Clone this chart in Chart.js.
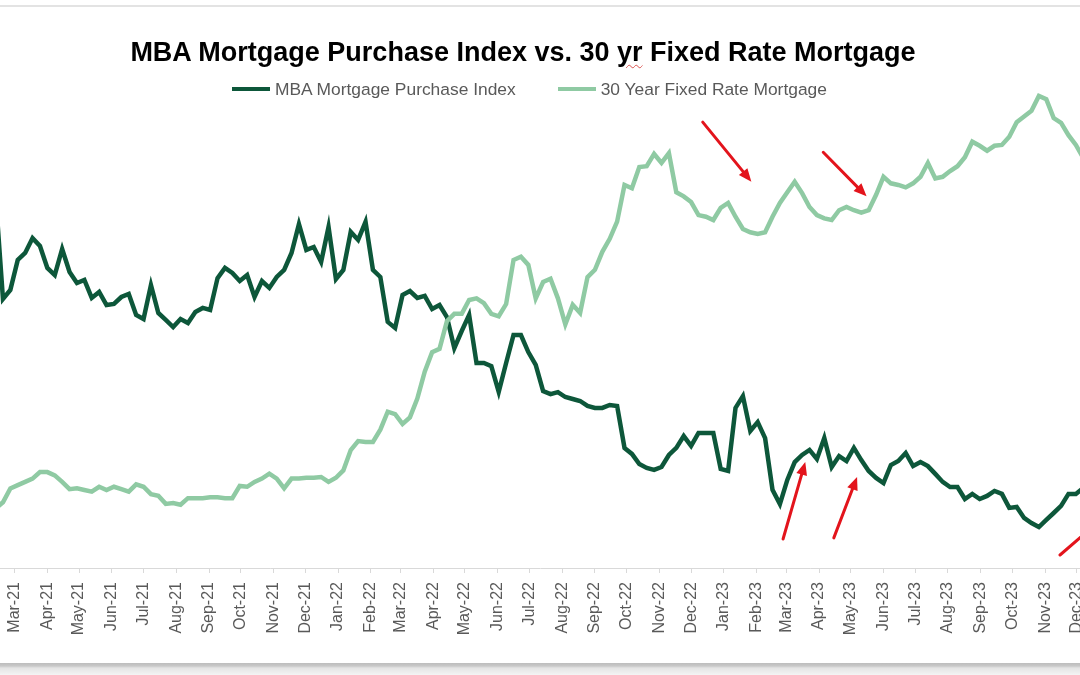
<!DOCTYPE html>
<html>
<head>
<meta charset="utf-8">
<title>MBA Mortgage Purchase Index vs. 30 yr Fixed Rate Mortgage</title>
<script src="https://cdn.jsdelivr.net/npm/chart.js@4.4.1/dist/chart.umd.min.js"></script>
<style>
  html, body { margin: 0; padding: 0; background: #fff; }
  #frame {
    position: relative; width: 1080px; height: 675px; overflow: hidden; background: #fff;
    font-family: "Liberation Sans", Arial, sans-serif;
  }
  #chart { position: absolute; left: 0; top: 0; }
  .top-rule { position: absolute; left: 0; top: 5px; width: 100%; height: 2px; background: #e3e3e3; }
  .bottom-shadow {
    position: absolute; left: 0; top: 663px; width: 100%; height: 12px;
    background: linear-gradient(#bdbdbd 0, #c8c8c8 3px, #e4e4e4 5px, #f4f4f4 12px);
  }
  .chart-title {
    position: absolute; left: 0; top: 39px; width: 1046px; text-align: center;
    font-weight: bold; font-size: 27px; line-height: 27px; color: #000;
  }
  .chart-title .typo { text-decoration: underline wavy #d9534f; text-decoration-thickness: 1px; text-underline-offset: 3px; }
  .legend { position: absolute; left: 232px; top: 79px; display: flex; height: 20px; }
  .legend__item { display: flex; align-items: center; margin-right: 42px; }
  .legend__swatch { display: inline-block; width: 38px; height: 4px; margin-right: 5px; }
  .legend__text { font-size: 17.4px; line-height: 20px; color: #595959; white-space: nowrap; }
</style>
</head>
<body>
<div id="frame">
  <div class="top-rule"></div>
  <canvas id="chart" width="1080" height="675"></canvas>
  <div class="chart-title">MBA Mortgage Purchase Index vs. 30 <span class="typo">yr</span> Fixed Rate Mortgage</div>
  <div class="legend" id="legend"></div>
  <div class="bottom-shadow"></div>
</div>

<script>
/* ── Data (weekly) ──────────────────────────────────────────────────────── */

var FIRST_WEEK = '2021-02-11';   // first weekly observation, then every 7 days

// MBA purchase index (axis is hidden in the source, scale is arbitrary)
var MBA_INDEX = [
  318.6, 261.4, 266.4, 282.9, 286.7, 294.9, 290.6, 278.5, 274.6, 288.9,
  276.3, 270.2, 271.9, 262.0, 265.3, 258.1, 258.7, 262.5, 264.2, 252.6,
  250.4, 269.1, 253.7, 249.9, 246.0, 250.4, 248.2, 254.3, 256.5, 255.4,
  272.9, 278.5, 275.7, 271.3, 274.6, 262.5, 271.3, 267.5, 273.5, 277.4,
  286.7, 302.6, 288.4, 290.0, 281.8, 301.0, 272.4, 277.4, 298.3, 293.9,
  303.8, 277.4, 273.5, 248.8, 245.5, 263.6, 265.8, 262.0, 263.1, 255.9,
  258.1, 251.5, 234.4, 243.8, 252.6, 226.2, 226.2, 224.5, 210.3, 226.2,
  241.6, 241.6, 232.2, 225.1, 210.8, 209.1, 210.2, 207.5, 206.4, 205.3,
  202.6, 201.5, 201.5, 203.1, 202.6, 179.5, 176.2, 170.6, 168.5, 167.4,
  169.0, 175.6, 179.5, 186.0, 180.6, 187.7, 187.7, 187.7, 167.9, 166.8,
  201.5, 208.0, 188.8, 193.7, 184.9, 156.4, 148.6, 161.9, 171.7, 175.6,
  178.4, 173.4, 184.9, 169.0, 175.0, 172.3, 179.5, 172.8, 166.8, 163.0,
  160.2, 170.1, 172.3, 176.7, 169.5, 171.7, 169.5, 165.2, 160.8, 158.0,
  158.0, 151.4, 154.2, 151.4, 153.1, 155.8, 154.2, 146.5, 147.0, 141.0,
  138.2, 136.0, 139.9, 143.7, 147.6, 154.2, 154.2, 157.4
];

// 30 year fixed rate mortgage, %
var RATE_30YR = [
  2.73, 2.81, 2.98, 3.02, 3.06, 3.10, 3.18, 3.18, 3.14, 3.06,
  2.97, 2.98, 2.96, 2.94, 3.00, 2.96, 3.00, 2.97, 2.94, 3.03,
  3.00, 2.91, 2.89, 2.79, 2.80, 2.78, 2.86, 2.86, 2.86, 2.87,
  2.87, 2.86, 2.86, 3.01, 3.00, 3.06, 3.10, 3.16, 3.10, 2.98,
  3.10, 3.10, 3.11, 3.11, 3.12, 3.06, 3.11, 3.20, 3.45, 3.56,
  3.55, 3.55, 3.70, 3.92, 3.89, 3.77, 3.85, 4.08, 4.41, 4.65,
  4.69, 5.03, 5.12, 5.12, 5.29, 5.31, 5.25, 5.12, 5.09, 5.24,
  5.78, 5.82, 5.72, 5.31, 5.51, 5.55, 5.31, 4.99, 5.23, 5.13,
  5.57, 5.66, 5.88, 6.04, 6.25, 6.70, 6.66, 6.92, 6.93, 7.08,
  6.97, 7.09, 6.61, 6.56, 6.49, 6.33, 6.31, 6.27, 6.42, 6.48,
  6.31, 6.16, 6.12, 6.10, 6.12, 6.31, 6.48, 6.61, 6.74, 6.60,
  6.43, 6.33, 6.29, 6.27, 6.39, 6.43, 6.39, 6.36, 6.39, 6.58,
  6.80, 6.72, 6.70, 6.67, 6.72, 6.80, 6.97, 6.78, 6.80, 6.87,
  6.93, 7.04, 7.23, 7.18, 7.12, 7.18, 7.19, 7.29, 7.47, 7.54,
  7.61, 7.79, 7.75, 7.52, 7.46, 7.31, 7.19, 7.03
];

var MONTH_LABELS = [
  'Mar-21', 'Apr-21', 'May-21', 'Jun-21', 'Jul-21', 'Aug-21', 'Sep-21', 'Oct-21', 'Nov-21', 'Dec-21',
  'Jan-22', 'Feb-22', 'Mar-22', 'Apr-22', 'May-22', 'Jun-22', 'Jul-22', 'Aug-22', 'Sep-22', 'Oct-22',
  'Nov-22', 'Dec-22', 'Jan-23', 'Feb-23', 'Mar-23', 'Apr-23', 'May-23', 'Jun-23', 'Jul-23', 'Aug-23',
  'Sep-23', 'Oct-23', 'Nov-23', 'Dec-23'
];

// red annotation arrows, in data units: [date, value] on the given axis
var ARROWS = [
  { from: ['2022-12-12', 7.47], to: ['2023-01-27', 6.74], axis: 'yRate' },
  { from: ['2023-04-05', 7.10], to: ['2023-05-16', 6.56], axis: 'yRate' },
  { from: ['2023-02-26', 129.4], to: ['2023-03-19', 171.8], axis: 'yIndex' },
  { from: ['2023-04-15', 130.0], to: ['2023-05-07', 163.5], axis: 'yIndex' },
  { from: ['2023-11-15', 120.6], to: ['2023-12-18', 137.1], axis: 'yIndex' }
];

/* ── Helpers ────────────────────────────────────────────────────────────── */

var DAY0 = Date.UTC(2021, 2, 1);   // x axis unit: days since 1 Mar 2021

function _dayOf(iso) {
  var p = iso.split('-');
  return (Date.UTC(+p[0], +p[1] - 1, +p[2]) - DAY0) / 86400000;
}

function _monthDay(label) {
  var m = 'JanFebMarAprMayJunJulAugSepOctNovDec'.indexOf(label.slice(0, 3)) / 3;
  return (Date.UTC(2000 + Number(label.slice(4)), m, 1) - DAY0) / 86400000;
}

function _points(values) {
  var start = _dayOf(FIRST_WEEK);
  return values.map(function (v, i) { return { x: start + 7 * i, y: v }; });
}

/* ── Arrow annotations ──────────────────────────────────────────────────── */

var arrowPlugin = {
  id: 'arrows',
  afterDatasetsDraw: function (chart) {
    var ctx = chart.ctx, xs = chart.scales.x;
    ctx.save();
    ctx.strokeStyle = '#e3141c';
    ctx.fillStyle = '#e3141c';
    ctx.lineWidth = 3;
    ctx.lineCap = 'round';
    ARROWS.forEach(function (a) {
      var ys = chart.scales[a.axis];
      var x1 = xs.getPixelForValue(_dayOf(a.from[0])), y1 = ys.getPixelForValue(a.from[1]);
      var x2 = xs.getPixelForValue(_dayOf(a.to[0])),   y2 = ys.getPixelForValue(a.to[1]);
      var ang = Math.atan2(y2 - y1, x2 - x1), c = Math.cos(ang), s = Math.sin(ang);
      var head = 13, half = 5.5;
      ctx.beginPath();
      ctx.moveTo(x1, y1);
      ctx.lineTo(x2 - c * head * 0.7, y2 - s * head * 0.7);
      ctx.stroke();
      ctx.beginPath();
      ctx.moveTo(x2, y2);
      ctx.lineTo(x2 - c * head + s * half, y2 - s * head - c * half);
      ctx.lineTo(x2 - c * head - s * half, y2 - s * head + c * half);
      ctx.closePath();
      ctx.fill();
    });
    ctx.restore();
  }
};

/* ── Chart ──────────────────────────────────────────────────────────────── */

Chart.defaults.font.family = '"Liberation Sans", Arial, sans-serif';

var chart = new Chart(document.getElementById('chart'), {
  type: 'line',
  data: {
    datasets: [
      {
        label: 'MBA Mortgage Purchase Index',
        data: _points(MBA_INDEX),
        yAxisID: 'yIndex',
        borderColor: '#0d573a',
        borderWidth: 4.5,
        pointRadius: 0,
        tension: 0,
        clip: false,
        order: 1
      },
      {
        label: '30 Year Fixed Rate Mortgage',
        data: _points(RATE_30YR),
        yAxisID: 'yRate',
        borderColor: '#8fcaa3',
        borderWidth: 4.5,
        pointRadius: 0,
        tension: 0,
        clip: false,
        order: 0
      }
    ]
  },
  options: {
    responsive: false,
    animation: false,
    devicePixelRatio: 1,
    layout: { padding: { top: 90, left: 0, right: 0, bottom: 0 }, autoPadding: false },
    plugins: {
      legend: { display: false },
      title: { display: false },
      tooltip: { enabled: false }
    },
    scales: {
      x: {
        type: 'linear',
        min: -13.8,
        max: 1007.9,
        afterBuildTicks: function (axis) {
          axis.ticks = MONTH_LABELS.map(function (l) { return { value: _monthDay(l) }; });
        },
        // plot spans the full width; the cut-off edge labels must not shrink it
        afterFit: function (axis) {
          axis.height = 107;
          axis.paddingLeft = 0;
          axis.paddingRight = 0;
        },
        ticks: {
          autoSkip: false,
          minRotation: 90,
          maxRotation: 90,
          padding: 9,
          color: '#595959',
          font: { size: 16 },
          callback: function (val, i) { return MONTH_LABELS[i]; }
        },
        grid: { drawOnChartArea: false, drawTicks: true, tickLength: 5, color: '#d9d9d9' },
        border: { display: true, color: '#d9d9d9', width: 1 }
      },
      yIndex: { display: false, min: 113.45, max: 376.35 },
      yRate:  { display: false, min: 2.004, max: 7.864 }
    }
  },
  plugins: [arrowPlugin]
});

/* ── HTML legend from the chart's datasets ──────────────────────────────── */

document.getElementById('legend').innerHTML = chart.data.datasets.map(function (ds) {
  return '<div class="legend__item">' +
           '<span class="legend__swatch" style="background:' + ds.borderColor + '"></span>' +
           '<span class="legend__text">' + ds.label + '</span>' +
         '</div>';
}).join('');
</script>
</body>
</html>
